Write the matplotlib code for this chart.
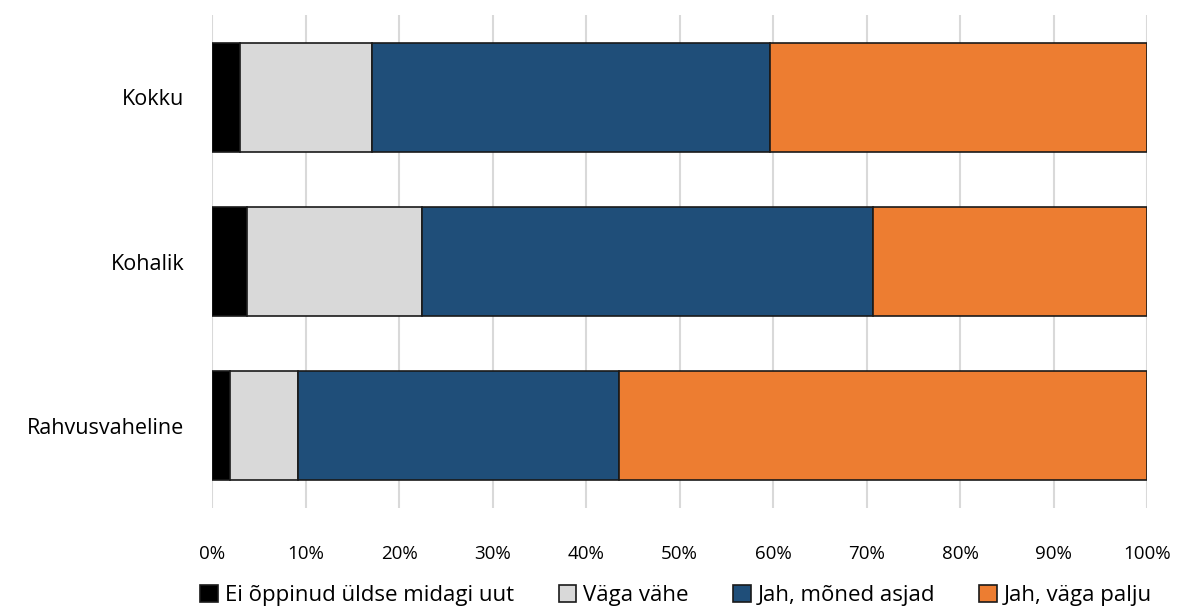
import numpy as np
import matplotlib
matplotlib.use("Agg")
import matplotlib.pyplot as plt
from matplotlib.ticker import PercentFormatter

plt.rcParams['font.family'] = ['Open Sans', 'DejaVu Sans']

categories = ["Kokku", "Kohalik", "Rahvusvaheline"]
series_names = ["Ei õppinud üldse midagi uut", "Väga vähe", "Jah, mõned asjad", "Jah, väga palju"]
values = {
    "Ei õppinud üldse midagi uut": [3.0, 3.7, 1.9],
    "Väga vähe": [14.1, 18.8, 7.3],
    "Jah, mõned asjad": [42.6, 48.2, 34.3],
    "Jah, väga palju": [40.3, 29.3, 56.5],
}
colors = ["#000000", "#d9d9d9", "#1f4e79", "#ed7d31"]

fig = plt.figure(figsize=(11.78, 6.09), dpi=100)
ax = fig.add_axes([0.18, 0.166, 0.7937, 0.809])

y = np.arange(len(categories))
left = np.zeros(len(categories))
for name, col in zip(series_names, colors):
    v = np.array(values[name])
    ax.barh(y, v, left=left, height=0.665, color=col, edgecolor="#1a1a1a",
            linewidth=1.2, label=name, zorder=3)
    left += v

ax.set_xlim(0, 100)
ax.set_ylim(2.5, -0.5)
ax.set_yticks(y)
ax.set_yticklabels(categories, fontsize=15.5)
ax.set_xticks(np.arange(0, 101, 10))
ax.xaxis.set_major_formatter(PercentFormatter(decimals=0))
ax.tick_params(axis="x", labelsize=13.5, length=0, pad=27)
ax.tick_params(axis="y", length=0, pad=20)
ax.grid(axis="x", color="#d9d9d9", linewidth=1.5, zorder=0)
for s in ax.spines.values():
    s.set_visible(False)

handles, labels = ax.get_legend_handles_labels()
leg = fig.legend(handles, labels, loc="center", bbox_to_anchor=(0.574, 0.022), ncol=4,
                 frameon=False, fontsize=16, handlelength=0.8, handleheight=0.8,
                 handletextpad=0.3, columnspacing=2.0, borderpad=0)

fig.savefig("out.png", dpi=100)
